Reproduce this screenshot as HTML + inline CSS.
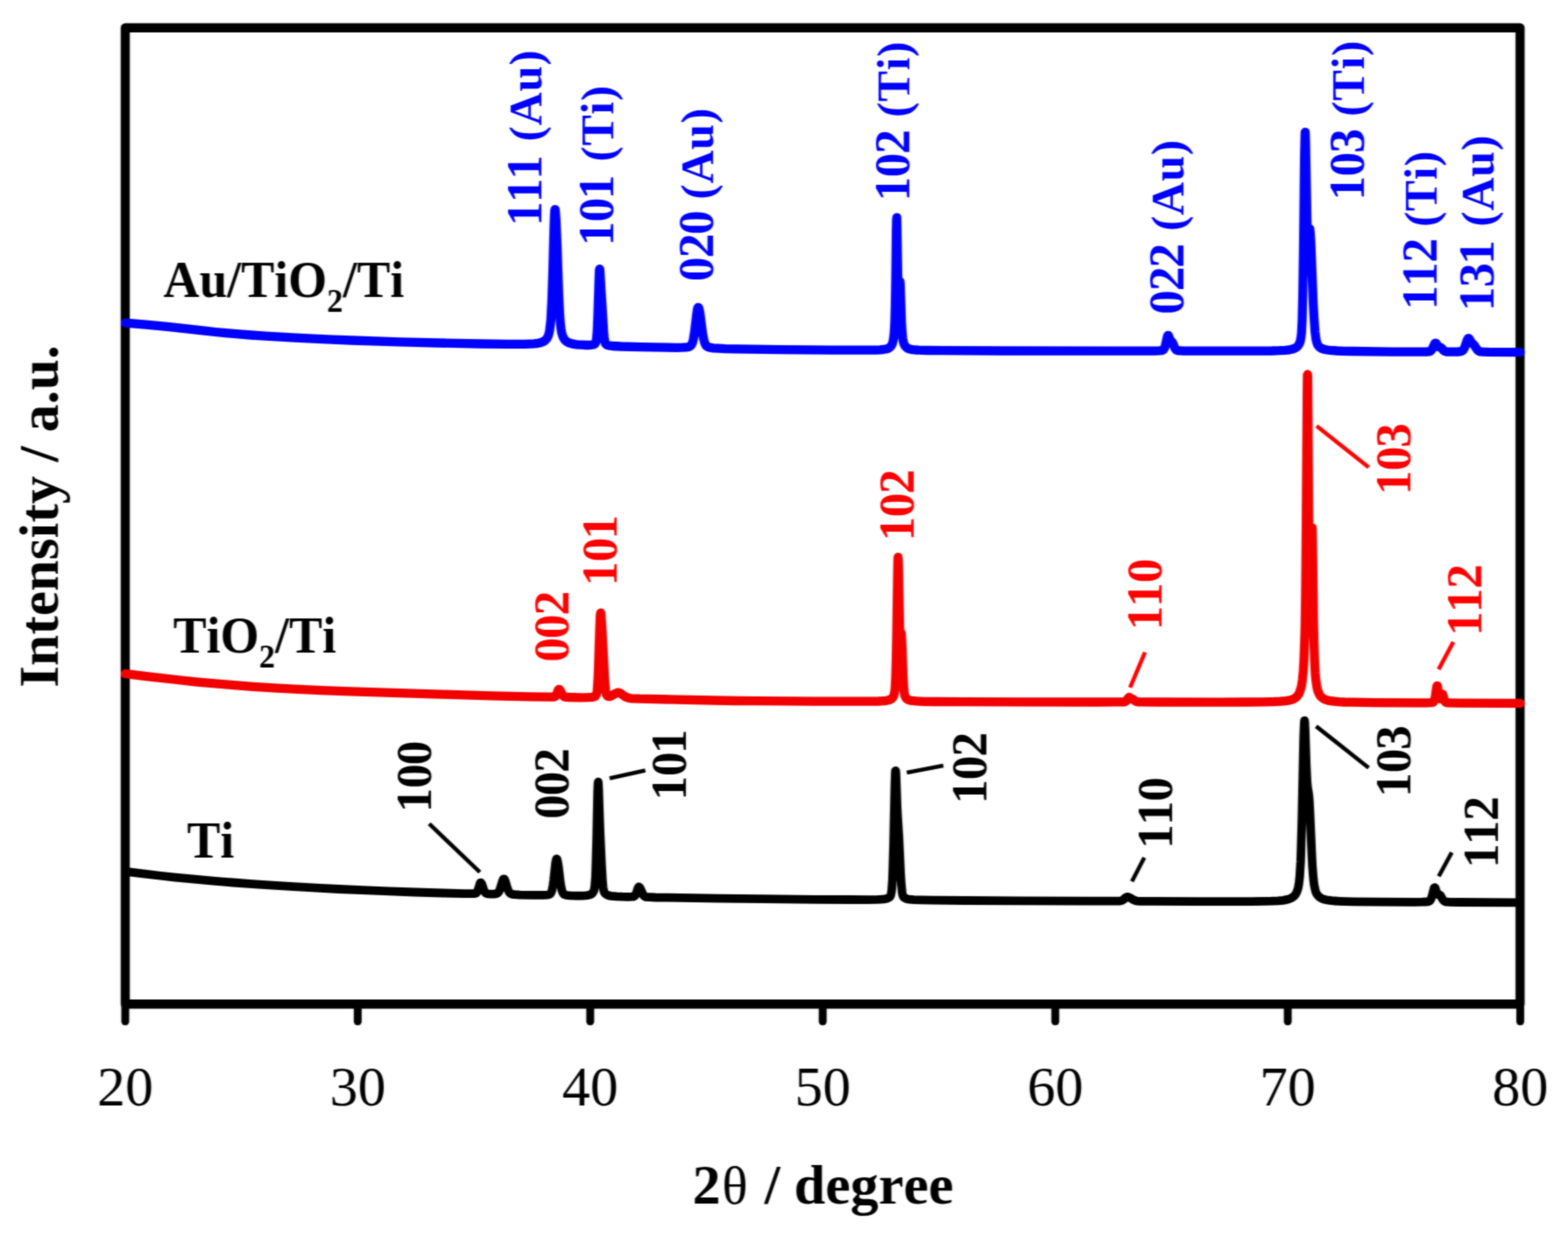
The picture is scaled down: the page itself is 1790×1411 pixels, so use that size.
<!DOCTYPE html>
<html lang="en">
<head>
<meta charset="utf-8">
<title>XRD patterns: Ti, TiO2/Ti, Au/TiO2/Ti</title>
<style>
html,body{margin:0;padding:0;background:#fff;}
body{width:1790px;height:1411px;overflow:hidden;}
svg{display:block;font-family:"Liberation Serif",serif;}
text{white-space:pre;font-kerning:none;}
</style>
</head>
<body>
<svg width="1790" height="1411" viewBox="0 0 1790 1411" role="img" aria-label="XRD patterns">
<defs><filter id="soft" x="0" y="0" width="1790" height="1411" filterUnits="userSpaceOnUse" color-interpolation-filters="sRGB"><feConvolveMatrix order="5 3" kernelMatrix="0.0100 0.0400 0.1000 0.0400 0.0100 0.0300 0.1200 0.3000 0.1200 0.0300 0.0100 0.0400 0.1000 0.0400 0.0100" divisor="1" edgeMode="duplicate" preserveAlpha="true"/></filter></defs>
<rect width="1790" height="1411" fill="#fff"/>
<g filter="url(#soft)">
<rect width="1790" height="1411" fill="#fff"/>
<rect x="143.0" y="31.75" width="1592.3" height="1114.45" fill="none" stroke="#000" stroke-width="10.4" stroke-linejoin="round"/>
<line x1="143.0" y1="1146.2" x2="143.0" y2="1166.0" stroke="#000" stroke-width="9.0" stroke-linecap="round"/>
<line x1="408.4" y1="1146.2" x2="408.4" y2="1166.0" stroke="#000" stroke-width="9.0" stroke-linecap="round"/>
<line x1="673.8" y1="1146.2" x2="673.8" y2="1166.0" stroke="#000" stroke-width="9.0" stroke-linecap="round"/>
<line x1="939.2" y1="1146.2" x2="939.2" y2="1166.0" stroke="#000" stroke-width="9.0" stroke-linecap="round"/>
<line x1="1204.7" y1="1146.2" x2="1204.7" y2="1166.0" stroke="#000" stroke-width="9.0" stroke-linecap="round"/>
<line x1="1470.1" y1="1146.2" x2="1470.1" y2="1166.0" stroke="#000" stroke-width="9.0" stroke-linecap="round"/>
<line x1="1735.5" y1="1146.2" x2="1735.5" y2="1166.0" stroke="#000" stroke-width="9.0" stroke-linecap="round"/>
<path d="M143 994.9L161.2 997.2L181 999.5L200 1001.6L221.8 1003.7L243 1005.6L266 1007.5L287.8 1009.2L310.8 1010.7L335 1012.2L361.5 1013.7L387 1015L413.5 1016.2L443.5 1017.4L473.5 1018.5L506 1019.5L530 1020.2L536.2 1020.2L540.2 1020.2L542.2 1020L543 1019.8L543.5 1019.6L544 1019.2L544.5 1018.6L545.2 1017.2L546 1015.1L547.8 1009.1L548.2 1008L548.5 1007.7L548.8 1007.6L549 1007.6L549.5 1008.1L550.2 1009.6L552.2 1015.4L553 1017.3L553.8 1018.6L554.2 1019.2L554.8 1019.7L555.5 1020.1L556.5 1020.3L559.5 1020.6L564.5 1020.5L566 1020.4L567 1020.1L568 1019.6L568.8 1018.9L569.5 1017.9L570 1017L571.2 1013.7L573.8 1005.2L574.5 1003.7L574.8 1003.4L575 1003.3L575.2 1003.3L575.5 1003.4L576 1004L576.8 1005.7L579.2 1013.8L580.5 1017.1L581.2 1018.4L582 1019.4L582.8 1020L583.8 1020.6L585 1020.9L586.8 1021.2L593.8 1021.6L608.8 1021.9L619.8 1021.9L624.5 1021.6L626 1021.4L627 1021.1L627.8 1020.7L628.5 1020L629 1019.3L629.5 1018.2L630 1016.7L630.5 1014.8L631.2 1010.7L632 1005.1L634.2 985L634.8 982.2L635 981.2L635.2 980.7L635.5 980.5L635.8 980.6L636.2 981.8L637 985.6L637.8 991L639.5 1005.5L640.2 1010.6L640.8 1013.4L641.2 1015.6L642 1018L642.5 1019.1L643.2 1020.3L644.2 1021.1L645.8 1021.7L648 1022.1L651.2 1022.4L657.2 1022.6L663.5 1022.6L668 1022.4L671.2 1022L673.2 1021.5L675 1020.7L676.2 1019.7L677.2 1018.4L678 1016.7L678.5 1014.8L679 1011.4L679.2 1008.9L679.8 1001.5L680.2 989.6L681 962L682.2 904.2L682.5 896.8L682.8 892.9L683 892.7L683.2 895.9L683.5 901.8L684.5 933.4L685.2 952.9L686.8 987.7L687.8 1005.2L688.5 1012.8L689 1015.8L689.5 1017.7L690.2 1019.3L691 1020.2L692 1021L693.5 1021.8L695.2 1022.4L697.5 1022.8L700.5 1023.1L704.2 1023.4L710.5 1023.7L717.2 1023.8L721.2 1023.7L723.2 1023.5L724 1023.1L724.5 1022.8L725 1022.3L725.5 1021.5L726.5 1019.2L728.2 1013.9L728.8 1012.9L729.2 1012.5L729.5 1012.5L730 1012.9L730.8 1013.9L731.8 1015.9L733.8 1020.5L734.5 1021.9L735.2 1022.8L736.2 1023.5L737.2 1023.9L738.8 1024.1L741.2 1024.2L748.2 1024.5L761.8 1024.7L821.5 1025.6L869 1026.2L930.2 1026.8L969.2 1027L990.8 1027.1L1002.2 1026.9L1006 1026.7L1009 1026.4L1011.5 1026L1013.5 1025.4L1015 1024.5L1016 1023.6L1016.8 1022.2L1017.2 1020.5L1017.8 1017.6L1018 1015.5L1018.8 1004.7L1019.2 992.7L1020 965.8L1021.5 897.3L1022 883.1L1022.2 880.1L1022.5 879.9L1022.8 882.4L1023 887.2L1024.2 922.2L1024.8 933.2L1026.2 955.3L1028.2 998.2L1029 1010.4L1029.8 1017.8L1030.2 1020.8L1030.8 1022.6L1031.2 1023.7L1032 1024.6L1033 1025.3L1034.2 1025.8L1035.8 1026.3L1037.8 1026.6L1043 1027.1L1051 1027.4L1064.2 1027.7L1100.8 1028L1166.5 1028.3L1243.8 1028.7L1272.2 1028.7L1277.8 1028.6L1279.2 1028.4L1280.2 1028.1L1281.2 1027.7L1282.2 1027.1L1285.5 1024.4L1286.2 1024L1287 1023.9L1288 1024.1L1289.8 1024.8L1291.2 1025.6L1294 1027.3L1295.8 1028.1L1297 1028.4L1298.2 1028.6L1302 1028.8L1319.5 1028.9L1367.5 1029.1L1428 1029.1L1441.5 1028.9L1451.5 1028.7L1458.8 1028.3L1464.5 1027.8L1467 1027.4L1469.2 1026.9L1471 1026.5L1472.8 1025.8L1474.2 1025.2L1475.5 1024.4L1476.8 1023.4L1477.8 1022.5L1478.8 1021.2L1479.5 1020.1L1480.2 1018.6L1481 1016.8L1482 1013.3L1482.5 1010.7L1483 1007.4L1483.8 1000.1L1484.2 993L1484.8 983.5L1485.2 971L1486.2 936L1488.2 842.2L1488.8 827.3L1489 823.6L1489.2 822.6L1489.5 824.2L1490 833.9L1491.2 872.1L1492 889.6L1492.2 893.6L1492.8 899.1L1494 906.3L1494.5 911.1L1494.8 914.5L1495.5 928.8L1497.5 974.8L1498.2 988.4L1499 998.8L1499.5 1004.2L1500.2 1010.1L1500.8 1013L1501.5 1016.3L1502.2 1018.5L1503.2 1020.6L1504.5 1022.3L1505.8 1023.6L1507.2 1024.7L1509.2 1025.8L1511.2 1026.5L1513.8 1027.2L1516.5 1027.7L1520 1028.2L1524 1028.5L1529 1028.8L1536.5 1029.1L1546.2 1029.3L1575.8 1029.6L1615.5 1029.8L1623.8 1029.7L1628.5 1029.5L1630.2 1029.3L1631.5 1028.9L1632.5 1028.1L1633.2 1027.1L1634 1025.4L1634.5 1023.9L1636.8 1015L1637.2 1013.7L1637.5 1013.3L1637.8 1013.2L1638 1013.2L1638.5 1013.9L1640.2 1018.9L1640.8 1020.1L1641.2 1020.8L1641.8 1021.2L1642.2 1021.4L1643.2 1021.4L1644 1021.9L1644.8 1022.9L1646.8 1026.5L1647.8 1027.9L1648.2 1028.3L1649 1028.9L1649.8 1029.2L1650.8 1029.5L1652.5 1029.6L1655.2 1029.8L1665.2 1030L1733.5 1030.3" fill="none" stroke="#000" stroke-width="9.8" stroke-linejoin="round" stroke-linecap="round"/>
<path d="M143 769.2L169.2 772.3L197.5 775.5L222.8 778.3L240 779.9L266.8 782.2L288.8 783.8L312.8 785.3L340.8 786.8L367 788.1L393.2 789.1L487.5 792.2L562 794.3L605.5 795.3L627.5 795.6L632.2 795.5L633.2 795.2L634 794.8L634.8 794L635.2 793.1L637.2 787.8L637.8 787L638 786.9L638.2 786.9L638.8 787.2L639.8 788.6L640.5 789.9L642 793L642.8 794.2L643.8 795.1L644.2 795.4L645 795.7L646.8 795.9L650 796L662.5 796.3L670.8 796.2L675.8 795.9L677.5 795.6L678.8 795.3L679.8 794.7L680.2 794.1L680.8 793L681 792.2L681.5 789.6L681.8 787.6L682.5 777.7L683 766.9L684.5 720.4L685 707.4L685.2 703L685.5 700.4L685.8 699.6L686 700.4L686.2 702.5L687.2 717.2L688.2 735L690 771.1L690.8 782.4L691.2 787.5L691.5 789.3L692 791.9L692.2 792.8L692.8 793.9L693.2 794.5L694 794.9L694.8 795.1L695.5 795.1L696.5 794.9L697.5 794.7L699.5 793.7L703.5 791.2L704.8 790.7L705.8 790.6L706.8 790.8L708 791.3L709.2 792.1L712 794.1L713.5 795.1L715 795.9L716.8 796.5L718.8 797L721 797.3L730 797.7L812.8 799.5L839.5 800L863.2 800.2L930 800.6L984 800.7L995.2 800.6L1002.8 800.5L1008 800.2L1011.8 799.8L1014.2 799.3L1016.2 798.6L1017.8 797.7L1019 796.4L1020 794.8L1020.8 792.7L1021.2 790.3L1021.8 786.3L1022.2 778.9L1022.5 773.3L1023 756.6L1023.5 731.3L1024.8 649L1025 639.4L1025.2 636.2L1025.5 639.8L1025.8 649.2L1026.8 704L1027.2 721.5L1027.5 725.8L1027.8 727.5L1028 727.1L1028.5 723.6L1028.8 722.6L1029 723.4L1029.2 726.3L1029.8 738L1031 773.1L1031.8 785.8L1032 788.4L1032.5 792.1L1033 794.2L1033.5 795.5L1034.2 796.7L1035.2 797.8L1036.5 798.6L1037.8 799.1L1039.2 799.6L1041.2 799.9L1046.2 800.4L1054.2 800.8L1067 801L1098.8 801.1L1164 801.3L1251 801.5L1278.2 801.4L1282.8 801.3L1284 801.1L1284.8 800.8L1285.5 800.3L1286.2 799.5L1288.2 796.6L1288.8 796.1L1289.2 796L1289.8 796.3L1291.5 797.8L1292 798.1L1293.5 798.4L1294 798.6L1296.2 800.3L1297.2 800.9L1298 801.1L1299 801.3L1302.5 801.4L1323.2 801.5L1391.8 801.6L1421.5 801.5L1440.5 801.4L1452.8 801.1L1461.5 800.7L1468 800.1L1470.5 799.7L1472.8 799.2L1475 798.6L1477 797.7L1478.5 796.8L1480 795.7L1481.2 794.3L1482.5 792.5L1483.5 790.5L1484.2 788.5L1485 786L1485.8 782.6L1486.8 776.3L1487.2 771.9L1487.8 766.2L1488.5 754.3L1489.2 735.6L1489.8 716.7L1490.5 671.6L1491.2 592.6L1492.2 447L1492.5 428.1L1492.8 427.5L1493 445.3L1494.2 610.9L1494.8 652L1495.2 675.7L1495.5 682.1L1495.8 685.2L1496 685.1L1496.2 681.5L1496.8 663.7L1497.8 605.1L1498 602.7L1498.2 611.1L1498.5 628.4L1499.5 708L1500 733.1L1500.8 756L1501.5 769.1L1502 774.9L1502.8 780.9L1503.5 785.1L1504.5 788.9L1505.5 791.5L1506.8 793.8L1508 795.4L1509.8 796.9L1511.5 798L1513.8 798.9L1516.2 799.6L1519.5 800.2L1523.2 800.7L1528 801.1L1534.8 801.5L1543.5 801.7L1569.8 802.2L1618.5 802.4L1628.2 802.4L1633.2 802.2L1635.2 801.9L1636.2 801.5L1637 800.6L1637.5 799.5L1638 797.8L1638.5 795.2L1640 784.8L1640.2 783.6L1640.5 783L1640.8 782.9L1641 783.4L1641.2 784.4L1642.8 794.2L1643.2 796.5L1643.5 797.2L1643.8 797.6L1644 797.7L1644.2 797.6L1644.5 797.2L1645 796L1646 793.1L1646.2 792.6L1646.5 792.4L1646.8 792.5L1647.2 793.5L1648.5 797.9L1649.2 800.1L1649.8 801L1650.2 801.5L1650.8 801.9L1651.5 802.1L1653 802.3L1655.5 802.4L1664.8 802.6L1735.5 802.9" fill="none" stroke="#f20000" stroke-width="10.3" stroke-linejoin="round" stroke-linecap="round"/>
<path d="M143 368.6L167 370.7L193.2 373.2L204.5 374.4L226.8 376.9L245.8 379L257.5 380.2L269.5 381.2L286.2 382.5L303 383.6L337.5 385.6L362.5 386.9L379 387.6L400.8 388.5L455.8 390.3L500.5 391.5L548.8 392.5L579 392.9L598.8 392.8L605 392.6L609.8 392.4L613.8 391.9L616.8 391.3L619.2 390.4L620.5 389.8L621.5 389.2L622.5 388.4L623.2 387.7L624 386.8L624.8 385.6L625.8 383.5L626.8 380.4L627.5 376.7L628.2 371L628.8 365.5L629.2 358.1L630 342.7L631 312.7L632.5 257.1L633 244.5L633.2 240.9L633.5 239.1L633.8 239.2L634 240.8L634.2 243.5L634.8 251.5L635.2 261.5L636 280.7L637.5 326.5L638.5 350.5L639 359.3L639.5 366.2L640 371.5L640.5 375.5L641.2 379.8L642 382.7L643 385.2L643.8 386.6L644.5 387.7L645.2 388.5L646.2 389.4L648.2 390.7L649.5 391.3L651 391.8L654.2 392.7L658.5 393.3L664 393.7L669.8 394L674.2 393.8L676.8 393.5L677.8 393.2L678.5 392.8L679 392.5L679.5 392L680 391.1L680.2 390.4L680.8 388.2L681 386.4L681.5 380.9L681.8 376.9L682.5 359.2L683.8 319.2L684.2 309L684.5 307.2L684.8 307.5L685.2 313.5L686.2 331.7L687.5 351.2L688.8 373.1L689.2 380.2L689.8 385.4L690.5 390.1L690.8 391L691.2 392.2L691.8 392.9L692.2 393.4L693 393.8L694.2 394.2L696.5 394.6L699.2 395L708.8 395.5L731.2 396.1L760 396.7L771.8 396.8L779 396.7L784 396.3L785.8 396L787 395.6L787.8 395.2L788.5 394.6L789.2 393.8L789.8 392.9L790.2 391.8L790.8 390.3L791.5 387.3L792.2 383.2L793 378L795 360.8L795.8 355.2L796.2 352.6L796.5 351.7L796.8 351.2L797 350.9L797.2 350.9L797.5 351.2L797.8 351.8L798.2 353.5L798.8 355.9L799.5 360.7L801.5 376.2L802.2 381.4L803 385.7L804 389.9L805 392.7L805.5 393.7L806.2 394.7L807 395.4L807.8 395.9L808.8 396.3L810.2 396.7L814 397.3L819.8 397.7L828 398.1L840.5 398.4L890 399.1L950.5 399.7L982.8 399.7L999.2 399.6L1004.5 399.3L1008.2 399L1011.2 398.5L1013.5 397.9L1015.2 397L1016 396.4L1016.8 395.6L1017.8 394.2L1018.8 392L1019.5 389.3L1020 386.6L1020.5 382.8L1021 376.7L1021.5 366.7L1022 349.5L1022.5 321.5L1023.2 263.9L1023.5 250.9L1023.8 248.3L1024 257L1025 321L1025.2 330.7L1025.5 336.8L1025.8 339.8L1026 339.8L1026.2 337.5L1027 323.9L1027.2 321.2L1027.5 321.6L1027.8 325.6L1028 332.4L1028.8 356.7L1029.2 369.4L1029.8 378.1L1030.5 386L1031 389L1031.5 391.1L1032 392.7L1032.8 394.3L1033.8 395.7L1034.8 396.7L1036 397.5L1037.8 398.3L1039.8 398.8L1042 399.1L1045 399.5L1048.5 399.7L1059 400L1076.5 400.2L1145.8 400.5L1270 400.7L1309.5 400.6L1317.8 400.6L1322.8 400.4L1325.5 400.2L1327 399.9L1328 399.3L1328.5 398.8L1329 398.1L1329.8 396.4L1330.5 393.9L1332.5 384.9L1333 383.4L1333.2 383L1333.5 382.9L1333.8 383L1334.2 383.8L1335.5 387.3L1336.2 388.8L1336.8 389.4L1338 390.3L1338.8 391.5L1340.8 396.4L1341.8 398.3L1342.5 399.2L1343.2 399.7L1344 400L1345.2 400.3L1347.5 400.4L1351.2 400.6L1364.2 400.7L1408.8 400.7L1439.5 400.6L1452 400.5L1460.8 400.2L1467.2 399.8L1472 399.3L1475.5 398.5L1477 398L1478.2 397.5L1479.5 396.8L1480.5 396.1L1481.5 395.1L1482.2 394.2L1483 393L1483.5 391.9L1484 390.7L1484.5 389L1485.2 385L1485.8 380.2L1486.2 372.1L1486.5 366.1L1487.2 336.8L1488 286.2L1489.2 178.1L1489.8 153.6L1490 150.9L1490.2 154.8L1490.5 164.2L1492 248.9L1492.2 258L1492.8 268.7L1493 270.8L1493.2 271.2L1493.5 270.3L1494.5 262.5L1494.8 261.2L1495 260.7L1495.2 261.2L1495.5 262.6L1496 268.5L1496.5 277.8L1499.2 347.1L1500 361.7L1500.8 372.9L1501.2 378.6L1501.8 383L1502.2 386.5L1502.8 389.1L1503.2 391L1504 393.1L1504.8 394.5L1505.8 395.7L1507 396.8L1508.5 397.6L1510.5 398.4L1512.8 399L1515.2 399.5L1518.5 399.9L1526.5 400.5L1533.8 400.8L1543.5 401L1590 401.6L1614.8 401.7L1627.5 401.6L1630 401.5L1631.5 401.3L1632.5 401L1633.5 400.4L1634.2 399.6L1635 398.4L1637.8 392.4L1638.2 391.8L1638.8 391.6L1639 391.7L1639.5 392.1L1641.2 394.8L1642 395.7L1642.8 396.1L1644.2 396.5L1645 396.9L1645.8 397.5L1648 400L1648.8 400.6L1649.8 401.1L1651.2 401.5L1653.8 401.6L1659.5 401.7L1664.5 401.5L1666.8 401.3L1668.2 401L1669.5 400.4L1670.5 399.4L1671.5 397.8L1672.2 396.1L1674.5 389.4L1675.2 387.5L1675.8 386.7L1676 386.4L1676.5 386.2L1677 386.5L1677.5 387.1L1679.2 390.2L1680 391.3L1680.8 392L1682.2 393.3L1683 394.2L1685.5 398L1686.5 399.3L1687.2 400.1L1688 400.6L1689.5 401.3L1690.8 401.5L1692.5 401.7L1699.2 401.9L1735.5 402.1" fill="none" stroke="#0000ff" stroke-width="10.3" stroke-linejoin="round" stroke-linecap="round"/>
<line x1="1290.1" y1="784.9" x2="1307.1" y2="744.6" stroke="#ff0000" stroke-width="4.6"/>
<line x1="1503" y1="486.3" x2="1562.5" y2="533.5" stroke="#ff0000" stroke-width="4.6"/>
<line x1="1642.3" y1="764.2" x2="1659.1" y2="732.8" stroke="#ff0000" stroke-width="4.6"/>
<line x1="490" y1="940.4" x2="547.8" y2="995.7" stroke="#000" stroke-width="4.6"/>
<line x1="695.9" y1="888.4" x2="736.7" y2="879.5" stroke="#000" stroke-width="4.6"/>
<line x1="1035.2" y1="882.1" x2="1076.9" y2="874.1" stroke="#000" stroke-width="4.6"/>
<line x1="1292.2" y1="1006.2" x2="1306.3" y2="979" stroke="#000" stroke-width="4.6"/>
<line x1="1502.5" y1="829.1" x2="1562.4" y2="876.5" stroke="#000" stroke-width="4.6"/>
<line x1="1642.5" y1="1000.4" x2="1657.3" y2="973.2" stroke="#000" stroke-width="4.6"/>
<text transform="translate(617.7 257.3) rotate(-90) scale(1 1.0)" dx="-0.8 0 0" fill="#0000ff" font-size="56" letter-spacing="-1.4" font-weight="bold">111<tspan font-size="52.5" letter-spacing="0.7" dx="3.04"> (Au)</tspan></text>
<text transform="translate(700.3 280.0) rotate(-90) scale(1 1.0)" dx="-0.8 0.8 -0.8" fill="#0000ff" font-size="56" letter-spacing="-1.4" font-weight="bold">101<tspan font-size="52.5" letter-spacing="0.7" dx="2.62"> (Ti)</tspan></text>
<text transform="translate(814.3 321.2) rotate(-90) scale(1 1.0)" fill="#0000ff" font-size="56" letter-spacing="-1.4" font-weight="bold">020<tspan font-size="52.5" letter-spacing="0.7" dx="-0.14"> (Au)</tspan></text>
<text transform="translate(1037.5 229.0) rotate(-90) scale(1 1.0)" dx="-0.8 0.8 0" fill="#0000ff" font-size="56" letter-spacing="-1.4" font-weight="bold">102<tspan font-size="52.5" letter-spacing="0.7" dx="1.26"> (Ti)</tspan></text>
<text transform="translate(1351.3 358.9) rotate(-90) scale(1 1.0)" fill="#0000ff" font-size="56" letter-spacing="-1.4" font-weight="bold">022<tspan font-size="52.5" letter-spacing="0.7" dx="1.40"> (Au)</tspan></text>
<text transform="translate(1556.5 228.0) rotate(-90) scale(1 1.0)" dx="-0.8 0.8 0" fill="#0000ff" font-size="56" letter-spacing="-1.4" font-weight="bold">103<tspan font-size="52.5" letter-spacing="0.7" dx="1.26"> (Ti)</tspan></text>
<text transform="translate(1640.0 353.0) rotate(-90) scale(1 1.0)" dx="-0.8 0 0.8" fill="#0000ff" font-size="56" letter-spacing="-1.4" font-weight="bold">112<tspan font-size="52.5" letter-spacing="0.7" dx="0.28"> (Ti)</tspan></text>
<text transform="translate(1704.5 354.5) rotate(-90) scale(1 1.0)" dx="-0.8 0.8 -0.8" fill="#0000ff" font-size="56" letter-spacing="-1.4" font-weight="bold">131<tspan font-size="52.5" letter-spacing="0.7" dx="2.90"> (Au)</tspan></text>
<text transform="translate(649.0 755.8) rotate(-90) scale(1 1.0)" fill="#ff0000" font-size="56" letter-spacing="-1.4" font-weight="bold">002</text>
<text transform="translate(704.1 668.1) rotate(-90) scale(1 1.0)" dx="-0.8 0.8 -0.8" fill="#ff0000" font-size="56" letter-spacing="-1.4" font-weight="bold">101</text>
<text transform="translate(1043.3 617.0) rotate(-90) scale(1 1.0)" dx="-0.8 0.8 0" fill="#ff0000" font-size="56" letter-spacing="-1.4" font-weight="bold">102</text>
<text transform="translate(1326.3 718.7) rotate(-90) scale(1 1.0)" dx="-0.8 0 0.8" fill="#ff0000" font-size="56" letter-spacing="-1.4" font-weight="bold">110</text>
<text transform="translate(1609.8 564.1) rotate(-90) scale(1 1.0)" dx="-0.8 0.8 0" fill="#ff0000" font-size="56" letter-spacing="-1.4" font-weight="bold">103</text>
<text transform="translate(1690.5 725.2) rotate(-90) scale(1 1.0)" dx="-0.8 0 0.8" fill="#ff0000" font-size="56" letter-spacing="-1.4" font-weight="bold">112</text>
<text transform="translate(492.3 926.6) rotate(-90) scale(1 1.0)" dx="-0.8 0.8 0" fill="#000" font-size="56" letter-spacing="-1.4" font-weight="bold">100</text>
<text transform="translate(649.3 935.1) rotate(-90) scale(1 1.0)" fill="#000" font-size="56" letter-spacing="-1.4" font-weight="bold">002</text>
<text transform="translate(782.8 912.9) rotate(-90) scale(1 1.0)" dx="-0.8 0.8 -0.8" fill="#000" font-size="56" letter-spacing="-1.4" font-weight="bold">101</text>
<text transform="translate(1125.8 917.0) rotate(-90) scale(1 1.0)" dx="-0.8 0.8 0" fill="#000" font-size="56" letter-spacing="-1.4" font-weight="bold">102</text>
<text transform="translate(1338.3 968.1) rotate(-90) scale(1 1.0)" dx="-0.8 0 0.8" fill="#000" font-size="56" letter-spacing="-1.4" font-weight="bold">110</text>
<text transform="translate(1609.5 909.2) rotate(-90) scale(1 1.0)" dx="-0.8 0.8 0" fill="#000" font-size="56" letter-spacing="-1.4" font-weight="bold">103</text>
<text transform="translate(1709.7 990.2) rotate(-90) scale(1 1.0)" dx="-0.8 0 0.8" fill="#000" font-size="56" letter-spacing="-1.4" font-weight="bold">112</text>
<text x="143.0" y="1261.8" font-size="64" text-anchor="middle">20</text>
<text x="408.4" y="1261.8" font-size="64" text-anchor="middle">30</text>
<text x="673.8" y="1261.8" font-size="64" text-anchor="middle">40</text>
<text x="939.2" y="1261.8" font-size="64" text-anchor="middle">50</text>
<text x="1204.7" y="1261.8" font-size="64" text-anchor="middle">60</text>
<text x="1470.1" y="1261.8" font-size="64" text-anchor="middle">70</text>
<text x="1735.5" y="1261.8" font-size="64" text-anchor="middle">80</text>
<text transform="translate(790.6 1373.7) scale(1.004 1)" font-size="64" font-weight="bold">2<tspan font-weight="normal" font-size="61" dx="1.5">θ</tspan><tspan dx="3.0"> / degree</tspan></text>
<text transform="translate(65.5 589.5) rotate(-90) scale(1 1.0)" font-size="64" font-weight="bold" text-anchor="middle">Intensity / a.u.</text>
<text transform="translate(186.5 339) scale(0.95 1)" font-size="60" font-weight="bold">Au/TiO<tspan font-size="38.4" dy="17">2</tspan><tspan dy="-17">/Ti</tspan></text>
<text transform="translate(197.7 745.3) scale(0.95 1)" font-size="60" font-weight="bold">TiO<tspan font-size="38.4" dy="17">2</tspan><tspan dy="-17">/Ti</tspan></text>
<text transform="translate(213.5 979.4) scale(0.95 1)" font-size="60" font-weight="bold">Ti</text>
</g>
</svg>
</body>
</html>
